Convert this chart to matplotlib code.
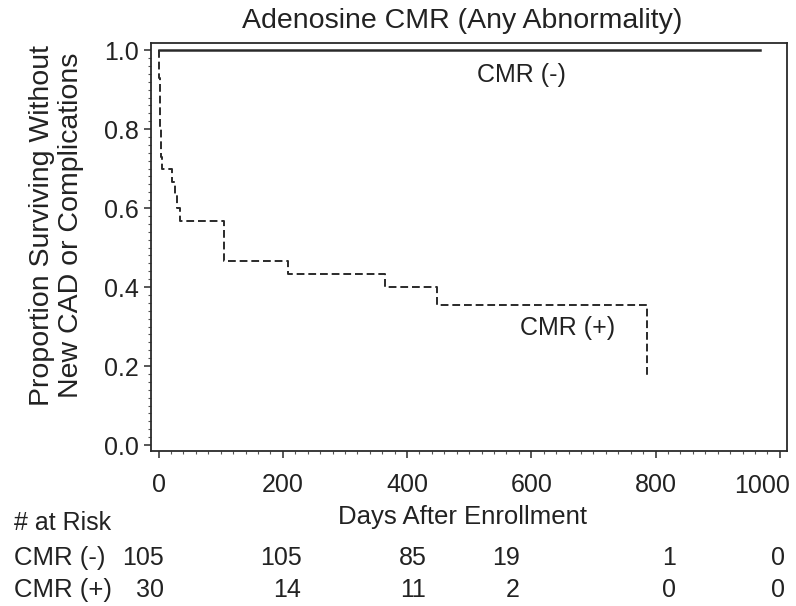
import matplotlib
matplotlib.use('Agg')
import matplotlib.pyplot as plt
from matplotlib.ticker import MultipleLocator

plt.rcParams['font.family'] = ['Liberation Sans', 'DejaVu Sans']

# Kaplan-Meier step data
neg_days = [0, 968]
neg_surv = [1.0, 1.0]
pos_days = [0, 1, 2, 3, 4, 5, 22, 26, 30, 34, 106, 208, 365, 448, 787]
pos_surv = [1.0, 0.93, 0.87, 0.80, 0.73, 0.70, 0.667, 0.633, 0.60, 0.567,
            0.467, 0.433, 0.40, 0.355, 0.178]

risk_days = [0, 200, 400, 600, 800, 1000]
risk_neg = [105, 105, 85, 19, 1, 0]
risk_pos = [30, 14, 11, 2, 0, 0]
# right edge of each at-risk column, in days
risk_x = [9, 230, 431, 581, 833, 1009]

W, H = 796, 606
TXT = '#222222'
LN = '#2a2a2a'
fig = plt.figure(figsize=(W / 100, H / 100), dpi=100)
ax = fig.add_axes([151 / W, 1 - 451 / H, (787 - 151) / W, (451 - 43) / H])

ax.plot(neg_days, neg_surv, color=LN, lw=1.8, drawstyle='steps-post')
ax.plot(pos_days + [787], pos_surv + [0.178], color=LN, lw=1.4,
        drawstyle='steps-post', linestyle=(0, (4, 2)))

ax.set_xlim(-12.2, 1011.6)
ax.set_ylim(-0.015, 1.018)
ax.set_xticks(risk_days)
# the last label is shifted left in the original, drawn separately below
ax.set_xticklabels([str(d) for d in risk_days[:-1]] + [''])
ax.xaxis.set_minor_locator(MultipleLocator(20))
ax.yaxis.set_major_locator(MultipleLocator(0.2))
ax.yaxis.set_minor_locator(MultipleLocator(0.02))
ax.yaxis.set_major_formatter(plt.FuncFormatter(lambda v, p: f'{v:.1f}'))
ax.tick_params(which='major', length=5, width=1.1, labelsize=18, color=LN,
               labelcolor=TXT)
ax.tick_params(axis='x', which='major', pad=11)
ax.tick_params(axis='y', which='major', pad=4)
ax.tick_params(which='minor', length=2.5, width=0.8, color='#555555')
for s in ax.spines.values():
    s.set_color(LN)
    s.set_linewidth(1.3)

trans = ax.get_xaxis_transform()
ax.text(1016, (451 - 486) / (451 - 43), str(risk_days[-1]), transform=trans,
        fontsize=18, color=TXT, ha='right', va='center', clip_on=False)

ax.text(513, 0.936, 'CMR (-)', fontsize=18, color=TXT, va='center')
ax.text(582, 0.296, 'CMR (+)', fontsize=18, color=TXT, va='center')

fig.text(462 / W, 1 - 21 / H, 'Adenosine CMR (Any Abnormality)', fontsize=20.5,
         color=TXT, ha='center', va='center')
ax.set_ylabel('Proportion Surviving Without\nNew CAD or Complications',
              fontsize=20.5, color=TXT, linespacing=1.15)
ax.yaxis.set_label_coords((84 - 151) / (787 - 151), (451 - 225) / (451 - 43))

fig.text(463 / W, 1 - 517 / H, 'Days After Enrollment', fontsize=18.5,
         color=TXT, ha='center', va='center')
fig.text(14 / W, 1 - 523 / H, '# at Risk', fontsize=18, color=TXT, va='center')
fig.text(14 / W, 1 - 558 / H, 'CMR (-)', fontsize=18.5, color=TXT, va='center')
fig.text(14 / W, 1 - 590 / H, 'CMR (+)', fontsize=18.5, color=TXT, va='center')

for xpos, n1, n2 in zip(risk_x, risk_neg, risk_pos):
    ax.text(xpos, (451 - 558) / (451 - 43), str(n1), transform=trans, fontsize=18,
            color=TXT, ha='right', va='center', clip_on=False)
    ax.text(xpos, (451 - 590) / (451 - 43), str(n2), transform=trans, fontsize=18,
            color=TXT, ha='right', va='center', clip_on=False)

fig.savefig('out.png', dpi=100)
